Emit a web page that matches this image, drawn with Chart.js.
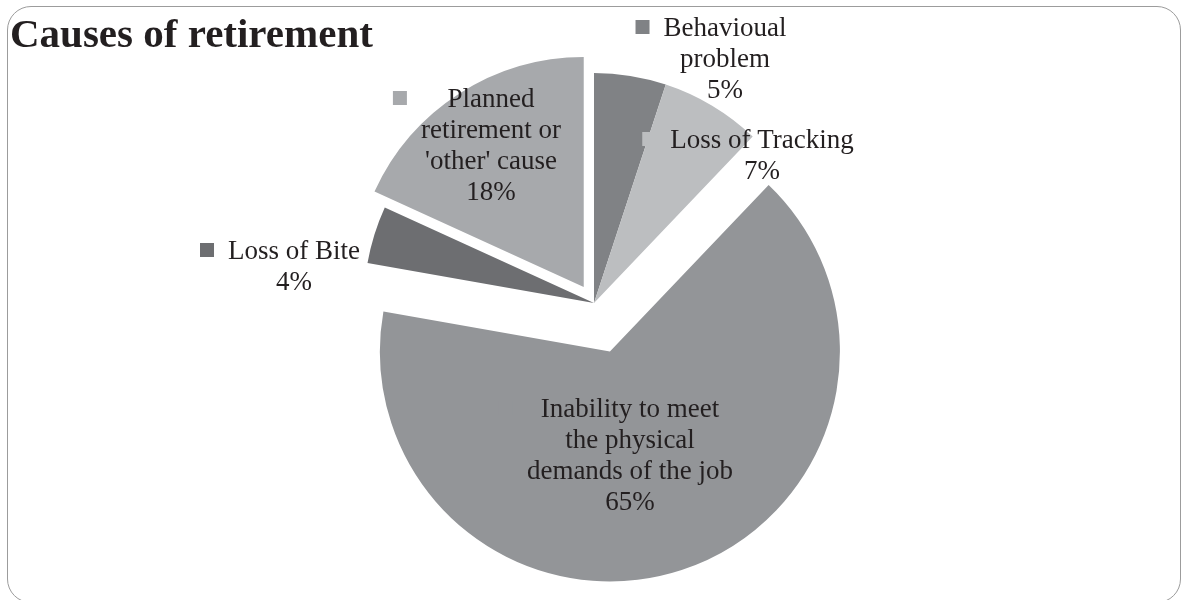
<!DOCTYPE html>
<html>
<head>
<meta charset="utf-8">
<title>Causes of retirement</title>
<script src="https://cdn.jsdelivr.net/npm/chart.js@4"></script>
<style>
  html, body { margin: 0; padding: 0; background: #fff; }
  #wrap { position: relative; width: 1189px; height: 600px; overflow: hidden; }
  #frame {
    position: absolute; left: 7px; top: 6px; width: 1174px; height: 597px;
    box-sizing: border-box; border: 1.5px solid #9c9c9c; border-radius: 24px;
  }
  #retirementChart { position: absolute; left: 0; top: 0; }
</style>
</head>
<body>
<div id="wrap">
  <div id="frame"></div>
  <canvas id="retirementChart" width="1189" height="600"></canvas>
</div>
<script>
// categories (multi-line, as wrapped on the chart) and their shares in %
const categories = [
    ['Behavioual', 'problem'],
    ['Loss of Tracking'],
    ['Inability to meet', 'the physical', 'demands of the job'],
    ['Loss of Bite'],
    ['Planned', 'retirement or', "'other' cause"]
];
const shares = [5, 7, 65, 4, 18];
const sliceColors = ['#808285', '#bcbec0', '#939598', '#6d6e71', '#a7a9ac'];

// how far each slice is pulled out of the pie, px
const sliceExplode = [0, 0, 51, 0, 19];
// label block placement: centre x and first baseline y
const labelAnchors = [
    { x: 725, y: 36 },
    { x: 762, y: 148 },
    { x: 630, y: 417 },
    { x: 294, y: 259 },
    { x: 491, y: 107 }
];

const pieRadius = 230;
const labelFont = '27px "Liberation Serif", "Times New Roman", serif';
const lineGap = 31;

// moves the exploded slices out along their middle angle
const explodeSlices = {
    id: 'explodeSlices',
    afterDatasetUpdate(chart, args) {
        args.meta.data.forEach((arc, i) => {
            const dist = sliceExplode[i];
            if (!dist || arc._exploded) return;
            const baseDraw = arc.draw;
            arc.draw = function (ctx) {
                const mid = (this.startAngle + this.endAngle) / 2;
                ctx.save();
                ctx.translate(Math.cos(mid) * dist, Math.sin(mid) * dist);
                baseDraw.call(this, ctx);
                ctx.restore();
            };
            arc._exploded = true;
        });
    }
};

// title and data labels with their legend keys
const sliceLabels = {
    id: 'sliceLabels',
    afterDraw(chart) {
        const ctx = chart.ctx;
        ctx.save();
        ctx.fillStyle = '#231f20';
        ctx.textBaseline = 'alphabetic';
        ctx.textAlign = 'left';
        ctx.font = 'bold 41px "Liberation Serif", "Times New Roman", serif';
        ctx.fillText('Causes of retirement', 10, 47);

        ctx.font = labelFont;
        ctx.textAlign = 'center';
        const labels = chart.data.labels;
        const values = chart.data.datasets[0].data;
        labels.forEach((lines, i) => {
            const a = labelAnchors[i];
            const rows = lines.concat([values[i] + '%']);
            let widest = 0;
            rows.forEach(t => { widest = Math.max(widest, ctx.measureText(t).width); });
            // legend key to the left of the block
            ctx.fillStyle = sliceColors[i];
            ctx.fillRect(a.x - widest / 2 - 28, a.y - 16, 14, 14);
            ctx.fillStyle = '#231f20';
            rows.forEach((t, r) => ctx.fillText(t, a.x, a.y + r * lineGap));
        });
        ctx.restore();
    }
};

const ctx = document.getElementById('retirementChart').getContext('2d');
const retirementChart = new Chart(ctx, {
    type: 'pie',
    data: {
        labels: categories,
        datasets: [{
            data: shares,
            backgroundColor: sliceColors,
            borderWidth: 0
        }]
    },
    options: {
        responsive: false,
        animation: false,
        radius: pieRadius,
        layout: { padding: { top: 6, right: 1, bottom: 0, left: 0 } },
        plugins: {
            legend: { display: false },
            tooltip: { enabled: false },
            title: { display: false }
        }
    },
    plugins: [explodeSlices, sliceLabels]
});
</script>
</body>
</html>
